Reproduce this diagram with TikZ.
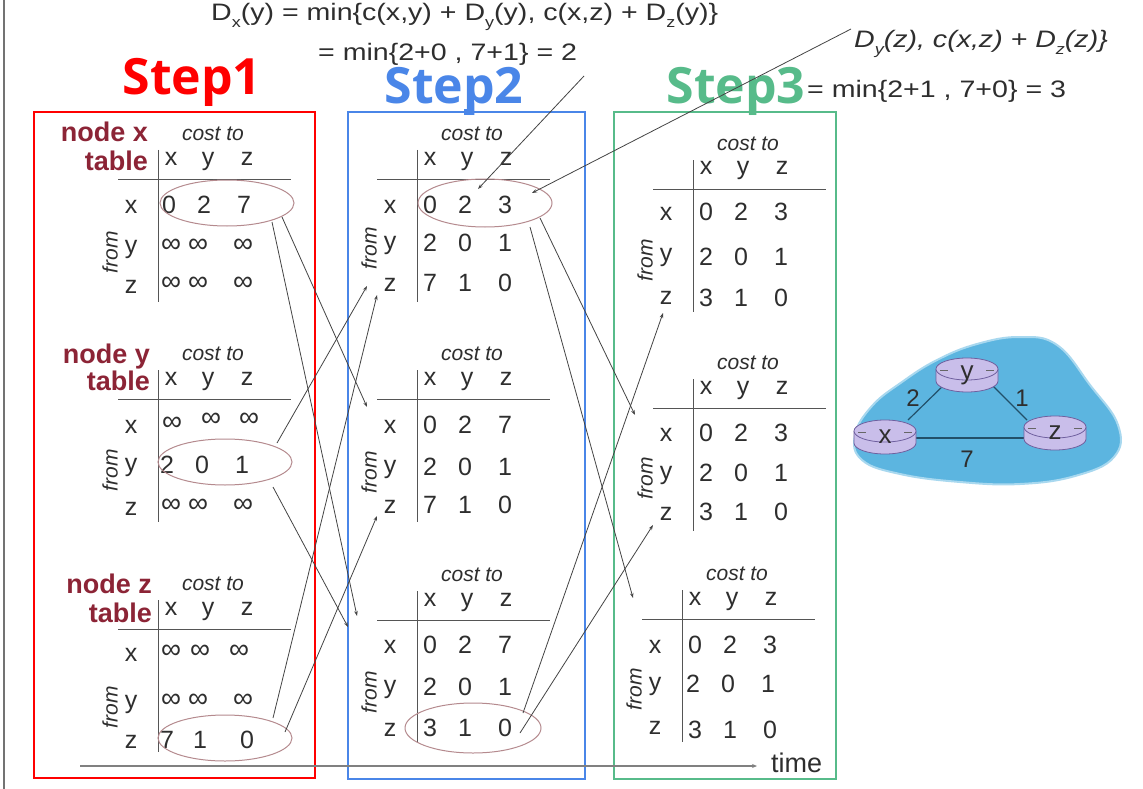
\documentclass[tikz,border=0pt]{standalone}
\usepackage{fontspec}
\setmainfont{Liberation Sans}
\newfontfamily\stepfont{Open Sans}
\usetikzlibrary{arrows.meta,shapes.geometric}
\definecolor{txt}{HTML}{2E2E2E}
\definecolor{tabl}{HTML}{555555}
\definecolor{ellc}{HTML}{B58A8E}
\definecolor{nodelabc}{HTML}{8C2436}
\definecolor{sred}{HTML}{FF0000}
\definecolor{sblue}{HTML}{4A86E8}
\definecolor{sgreen}{HTML}{57BB8A}
\definecolor{blobc}{HTML}{5CB5E0}
\definecolor{blobedge}{HTML}{A8D8EF}
\definecolor{rfillc}{HTML}{C9BEEA}
\definecolor{rdrawc}{HTML}{6F609F}
\definecolor{edgec}{HTML}{22506A}
\definecolor{connc}{HTML}{444444}

\newcommand\sbs[1]{\raisebox{-0.28em}{\fontsize{15}{15}\selectfont #1}}
\newcommand\myinf{∞}

\newcommand\tframe[6]{%
 \draw[tabline] ({#2-40},#3) -- ({#2+133},#3);
 \draw[tabline] (#2,{#3-29}) -- (#2,{#3+123});
 \node[costst] (#1-cost) at ({#2+55},{#3-39}) {cost to};
 \node[tt] (#1-hx) at ({#2+13},{#3-14}) {x};
 \node[tt] (#1-hy) at ({#2+50},{#3-14}) {y};
 \node[tt] (#1-hz) at ({#2+89},{#3-14}) {z};
 \node[tt] (#1-rx) at ({#2-27},{#4+8}) {x};
 \node[tt] (#1-ry) at ({#2-27},{#5+6}) {y};
 \node[tt] (#1-rz) at ({#2-27},{#6+8}) {z};
 \node[fromst] (#1-from) at ({#2-48},{#5+5}) {from};
}
\newcommand\trow[6]{%
 \node[tt] (#1-a) at ({#2+13},{#3+8}) {#4};
 \node[tt] (#1-b) at ({#2+48},{#3+8}) {#5};
 \node[tt] (#1-c) at ({#2+88},{#3+8}) {#6};
}
\newcommand\irow[3]{%
 \node[inf] (#1-a) at ({#2+13},{#3+5}) {\myinf};
 \node[inf] (#1-b) at ({#2+40},{#3+5}) {\myinf};
 \node[inf] (#1-c) at ({#2+85},{#3+5}) {\myinf};
}
\newcommand\router[4]{%
 \fill[rfillc] ({#2-31},{#3-6}) -- ({#2-31},{#3+6}) arc[start angle=180,end angle=0,x radius=31,y radius=11] -- ({#2+31},{#3-6}) -- cycle;
 \draw[rdrawc, line width=0.8pt] ({#2-31},{#3-6}) -- ({#2-31},{#3+6}) arc[start angle=180,end angle=0,x radius=31,y radius=11] -- ({#2+31},{#3-6});
 \draw[rdrawc, fill=rfillc, line width=0.8pt] (#2,{#3-6}) ellipse [x radius=31, y radius=11];
 \draw[black!60, line width=0.8pt] ({#2-27},{#3-5}) -- ({#2-19},{#3-5}) ({#2+19},{#3-5}) -- ({#2+27},{#3-5});
 \node[rlab] (#1) at (#2,#3) {#4};
}

\begin{document}
\begin{tikzpicture}[x=1pt,y=-1pt,
 tt/.style={font=\fontsize{25}{25}\selectfont, text=txt, inner sep=0pt, anchor=base},
 inf/.style={font=\fontsize{28}{28}\selectfont, text=txt, inner sep=0pt, anchor=base},
 costst/.style={font=\fontsize{21}{21}\selectfont\itshape, text=txt, inner sep=0pt, anchor=base},
 fromst/.style={font=\fontsize{21}{21}\selectfont\itshape, text=txt, inner sep=0pt, rotate=90},
 tabline/.style={draw=tabl, line width=1pt},
 ell/.style={ellipse, draw=ellc, line width=1pt, inner sep=0pt},
 conn/.style={draw=connc, line width=0.8pt, -{Stealth[length=5pt,width=3.5pt]}},
 nodelab/.style={font=\fontsize{27}{27}\selectfont\bfseries, text=nodelabc, inner sep=0pt, anchor=base east},
 steplab/.style={font=\stepfont\bfseries\fontsize{50}{50}\selectfont, inner sep=0pt, anchor=base},
 formula/.style={font=\fontsize{23.8}{24}\selectfont, text=txt, inner sep=0pt, anchor=base west},
 stepbox/.style={line width=2pt},
 rlab/.style={font=\fontsize{26}{26}\selectfont, text=txt, inner sep=0pt},
 elab/.style={font=\fontsize{24}{24}\selectfont, text=txt, inner sep=0pt}
]
\useasboundingbox (0,0) rectangle (1143,789);
\fill[white] (0,0) rectangle (1143,789);
\draw[black!55, line width=1.2pt] (4,0) -- (4,789);

% formulas
\node[formula] (f1) at (211,21) {\scalebox{1.2}[1]{D\sbs{x}(y) = min\{c(x,y) + D\sbs{y}(y), c(x,z) + D\sbs{z}(y)\}}};
\node[formula] (f2) at (318,61) {\scalebox{1.2}[1]{= min\{2+0 , 7+1\} = 2}};
\node[formula, font=\fontsize{23.8}{24}\selectfont\itshape] (f3) at (854,48) {\scalebox{1.2}[1]{D\sbs{y}(z), c(x,z) + D\sbs{z}(z)\}}};
\node[formula] (f4) at (807,98) {\scalebox{1.2}[1]{= min\{2+1 , 7+0\} = 3}};

% step boxes
\draw[stepbox, draw=sred] (34,112) rectangle (315,778);
\draw[stepbox, draw=sblue] (348,112) rectangle (585,779);
\draw[stepbox, draw=sgreen] (614,112) rectangle (836,779);
\fill[sblue] (464,109) rectangle (470,115);
\fill[sgreen] (750,109) rectangle (756,115);

% time axis
\coordinate (tstart) at (80,766);
\coordinate (tend) at (757,766);
\draw[draw=black!50, line width=1.1pt, -{Stealth[length=5pt,width=4pt]}] (tstart) -- (tend);
\node[font=\fontsize{27}{27}\selectfont, text=txt, inner sep=0pt, anchor=base west] (time) at (771,772) {time};

% step labels
\node[steplab, text=sred] (st1) at (192,95) {Step1};
\node[steplab, text=sblue] (st2) at (454,104) {Step2};
\node[steplab, text=sgreen] (st3) at (736,104) {Step3};

% ===== Step 1 =====
\node[nodelab] (n1a) at (148,142) {node x};
\node[nodelab] (n1b) at (148,170) {table};
\tframe{s1x}{158}{179}{205}{247}{285}
\trow{s1x-1}{156}{205}{0}{2}{7}
\irow{s1x-2}{158}{247}
\irow{s1x-3}{158}{285}

\node[nodelab] (n2a) at (150,363) {node y};
\node[nodelab] (n2b) at (150,390) {table};
\tframe{s1y}{158}{399}{425}{465}{507}
\node[inf] (s1y-1-a) at (172,430) {\myinf};
\node[inf] (s1y-1-b) at (211,426) {\myinf};
\node[inf] (s1y-1-c) at (249,426) {\myinf};
\trow{s1y-2}{154}{465}{2}{0}{1}
\irow{s1y-3}{158}{507}

\node[nodelab] (n3a) at (152,593) {node z};
\node[nodelab] (n3b) at (152,622) {table};
\tframe{s1z}{158}{629}{653}{702}{740}
\node[inf] (s1z-1-a) at (171,658) {\myinf};
\node[inf] (s1z-1-b) at (200,658) {\myinf};
\node[inf] (s1z-1-c) at (239,658) {\myinf};
\irow{s1z-2}{158}{702}
\node[tt] (s1z-3-a) at (167,748) {7};
\node[tt] (s1z-3-b) at (200,748) {1};
\node[tt] (s1z-3-c) at (247,748) {0};

\node[ell, minimum width=134pt, minimum height=46pt] (e1x) at (227,203) {};
\node[ell, minimum width=134pt, minimum height=46pt] (e1y) at (225,462) {};
\node[ell, minimum width=134pt, minimum height=46pt] (e1z) at (225,738) {};

% ===== Step 2 =====
\tframe{s2a}{417}{179}{205}{243}{283}
\trow{s2a-1}{417}{205}{0}{2}{3}
\trow{s2a-2}{417}{243}{2}{0}{1}
\trow{s2a-3}{417}{283}{7}{1}{0}
\tframe{s2b}{417}{399}{425}{467}{505}
\trow{s2b-1}{417}{425}{0}{2}{7}
\trow{s2b-2}{417}{467}{2}{0}{1}
\trow{s2b-3}{417}{505}{7}{1}{0}
\tframe{s2c}{417}{620}{645}{687}{728}
\trow{s2c-1}{417}{645}{0}{2}{7}
\trow{s2c-2}{417}{687}{2}{0}{1}
\trow{s2c-3}{417}{728}{3}{1}{0}
\node[ell, minimum width=134pt, minimum height=48pt] (e2x) at (485,203) {};
\node[ell, minimum width=136pt, minimum height=50pt] (e2z) at (473,728) {};

% ===== Step 3 =====
\tframe{s3a}{693}{189}{212}{255}{296}
\trow{s3a-1}{693}{212}{0}{2}{3}
\trow{s3a-2}{693}{257}{2}{0}{1}
\trow{s3a-3}{693}{298}{3}{1}{0}
\tframe{s3b}{693}{408}{433}{473}{512}
\trow{s3b-1}{693}{433}{0}{2}{3}
\trow{s3b-2}{693}{473}{2}{0}{1}
\trow{s3b-3}{693}{512}{3}{1}{0}
\tframe{s3c}{682}{619}{645}{684}{726}
\trow{s3c-1}{682}{645}{0}{2}{3}
\trow{s3c-2}{680}{684}{2}{0}{1}
\trow{s3c-3}{682}{730}{3}{1}{0}

% ===== connectors =====
\coordinate (a1s) at (282,217); \coordinate (a1e) at (367,407);
\coordinate (a2s) at (272,222); \coordinate (a2e) at (357,616);
\coordinate (a3s) at (277,443); \coordinate (a3e) at (367,286);
\coordinate (a4s) at (273,487); \coordinate (a4e) at (348,627);
\coordinate (a5s) at (273,718); \coordinate (a5e) at (377,295);
\coordinate (a6s) at (285,732); \coordinate (a6e) at (377,516);
\coordinate (b1s) at (540,218); \coordinate (b1e) at (635,415);
\coordinate (b2s) at (530,227); \coordinate (b2e) at (633,598);
\coordinate (b3s) at (523,713); \coordinate (b3e) at (663,313);
\coordinate (b4s) at (520,733); \coordinate (b4e) at (653,525);
\coordinate (c1s) at (584,76);  \coordinate (c1e) at (478,189);
\coordinate (c2s) at (851,29);  \coordinate (c2e) at (532,193);
\foreach \c in {a1,a2,a3,a4,a5,a6,b1,b2,b3,b4,c1,c2}
  \draw[conn] (\c s) -- (\c e);

% ===== network =====
\fill[blobc, draw=blobedge, line width=2pt] plot[smooth cycle, tension=0.7] coordinates {
 (855,435) (872,406) (902,382) (937,360) (977,344) (1020,337) (1057,345)
 (1090,385) (1118,425) (1114,457) (1075,476) (1020,484) (960,482) (900,474) (862,460)};
\coordinate (exy1) at (908,420); \coordinate (exy2) at (947,382);
\coordinate (eyz1) at (987,380); \coordinate (eyz2) at (1027,420);
\coordinate (exz1) at (915,438); \coordinate (exz2) at (1025,438);
\draw[edgec, line width=1.2pt] (exy1) -- (exy2);
\draw[edgec, line width=1.2pt] (eyz1) -- (eyz2);
\draw[edgec, line width=1.2pt] (exz1) -- (exz2);
\router{ry}{967}{375}{y}
\router{rx}{885}{437}{x}
\router{rz}{1055}{433}{z}
\node[elab] (l2) at (913,398) {2};
\node[elab] (l1) at (1022,398) {1};
\node[elab] (l7) at (967,459) {7};
\end{tikzpicture}
\end{document}
